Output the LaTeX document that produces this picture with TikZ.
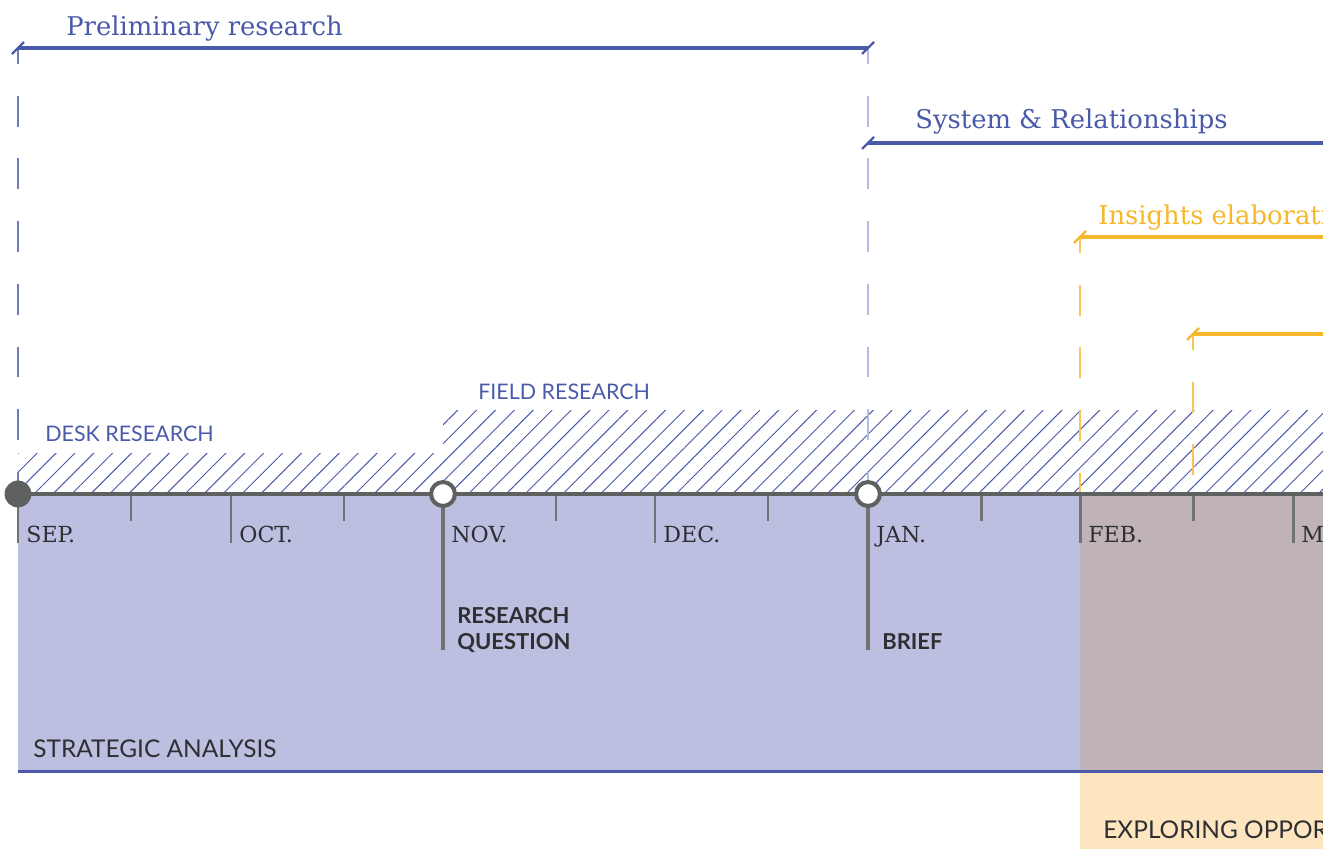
\documentclass[tikz,border=0pt]{standalone}
\usepackage{fontspec}
\setmainfont{DejaVu Serif}
\newfontfamily\labelfont{Lato}
\usetikzlibrary{positioning, calc, patterns.meta}

\definecolor{mainblue}{HTML}{4A5AA8}
\definecolor{paleblue}{HTML}{BCBFE0}
\definecolor{lineblue}{HTML}{B4BDE0}
\definecolor{mauve}{HTML}{C0B3B7}
\definecolor{sand}{HTML}{FDE6BF}
\definecolor{amber}{HTML}{F7B72B}
\definecolor{axisgray}{HTML}{5F6161}
\definecolor{tickgray}{HTML}{707274}
\definecolor{ink}{HTML}{2D2F33}

\begin{document}
\begin{tikzpicture}[
    x=0.02cm, y=-0.02cm,
    phase/.style={font=\fontsize{14.7}{17}\selectfont, anchor=base west, inner sep=0pt},
    month/.style={font=\fontsize{12.6}{14}\selectfont, text=ink, anchor=base west, inner sep=0pt},
    act/.style={font=\labelfont\fontsize{12.2}{14}\selectfont, text=mainblue, anchor=base west, inner sep=0pt},
    area/.style={font=\labelfont\fontsize{13.9}{16}\selectfont, text=ink, anchor=base west, inner sep=0pt},
    goal/.style={font=\labelfont\bfseries\fontsize{12.5}{14.7}\selectfont, text=ink, anchor=base west, align=left, inner sep=0pt},
    bracket/.style={line width=1.8pt},
    slash/.style={line width=1.3pt},
    guide/.style={line width=0.7pt, dash pattern=on 17.6pt off 18.1pt, dash phase=8.6pt},
    hatch/.style={pattern={Lines[angle=45, distance=7.6pt, line width=0.55pt]}, pattern color=mainblue},
    major/.style={draw=tickgray, line width=1.7pt},
    minor/.style={draw=tickgray, line width=1.7pt},
    mile/.style={circle, draw=axisgray, line width=2.3pt, fill=white, minimum size=13.6pt, inner sep=0pt},
    start/.style={circle, fill=axisgray, minimum size=15.3pt, inner sep=0pt}
]

\useasboundingbox (0,0) rectangle (1323,849);
\clip (0,0) rectangle (1323,849);

% Areas below the time axis
\fill[paleblue] (18,494) rectangle (1080,771);
\fill[mauve] (1080,494) rectangle (1400,771);
\fill[sand] (1080,771) rectangle (1400,849);
\draw[mainblue, line width=1.7pt] (18,771) -- (1400,771);

\node[area] (strat) at (33,757) {STRATEGIC ANALYSIS};
\node[area] (explore) at (1103,838) {EXPLORING OPPORTUNITIES};

% Research activities
\fill[hatch] (18,453) rectangle (443,494);
\fill[hatch] (443,410) rectangle (1400,494);
\node[act] (desk) at (45,441) {DESK RESEARCH};
\node[act] (field) at (478,399) {FIELD RESEARCH};

% Phase brackets
\coordinate (axis) at (0,494);
\coordinate (pre-a) at (18,48);
\coordinate (pre-b) at (868,48);
\coordinate (sys-a) at (868,143);
\coordinate (sys-b) at (1400,143);
\coordinate (ins-a) at (1080,237);
\coordinate (ins-b) at (1400,237);
\coordinate (nxt-a) at (1193,334);
\coordinate (nxt-b) at (1400,334);

\draw[guide, mainblue!80] (pre-a) -- (pre-a |- axis);
\draw[guide, lineblue] (pre-b) -- (pre-b |- axis);
\draw[guide, amber!80] (ins-a) -- (ins-a |- axis);
\draw[guide, amber!80] (nxt-a) -- (nxt-a |- axis);

\draw[bracket, mainblue] (pre-a) -- (pre-b);
\draw[bracket, mainblue] (sys-a) -- (sys-b);
\draw[bracket, amber] (ins-a) -- (ins-b);
\draw[bracket, amber] (nxt-a) -- (nxt-b);
\foreach \c/\col in {pre-a/mainblue, pre-b/mainblue, sys-a/mainblue, ins-a/amber, nxt-a/amber}
    \draw[slash, \col] ($(\c)+(-6,6)$) -- ($(\c)+(6,-6)$);

\node[phase, text=mainblue] (pre) at (66,35) {Preliminary research};
\node[phase, text=mainblue] (sys) at (915,128) {System \& Relationships};
\node[phase, text=amber] (ins) at (1098,224) {Insights elaboration};

% Time axis, ticks and months
\foreach \x/\m in {18/SEP., 231/OCT., 443/NOV., 655/DEC., 868/JAN., 1080/FEB., 1293/MAR.} {
    \draw[major] (\x,494) -- (\x,543);
    \node[month] at (\x+8,542) {\m};
}
\foreach \x in {131, 344, 556, 768, 981, 1193}
    \draw[minor] (\x,494) -- (\x,521);
\draw[axisgray, line width=2.6pt] (18,494) -- (1400,494);

% Milestones
\draw[tickgray, line width=2.3pt] (443,494) -- (443,650);
\draw[tickgray, line width=2.3pt] (868,494) -- (868,650);
\node[start] (m0) at (18,494) {};
\node[mile] (m1) at (443,494) {};
\node[mile] (m2) at (868,494) {};
\node[goal] (question) at (457,649) {RESEARCH\\QUESTION};
\node[goal] (brief) at (882,649) {BRIEF};

\end{tikzpicture}
\end{document}
